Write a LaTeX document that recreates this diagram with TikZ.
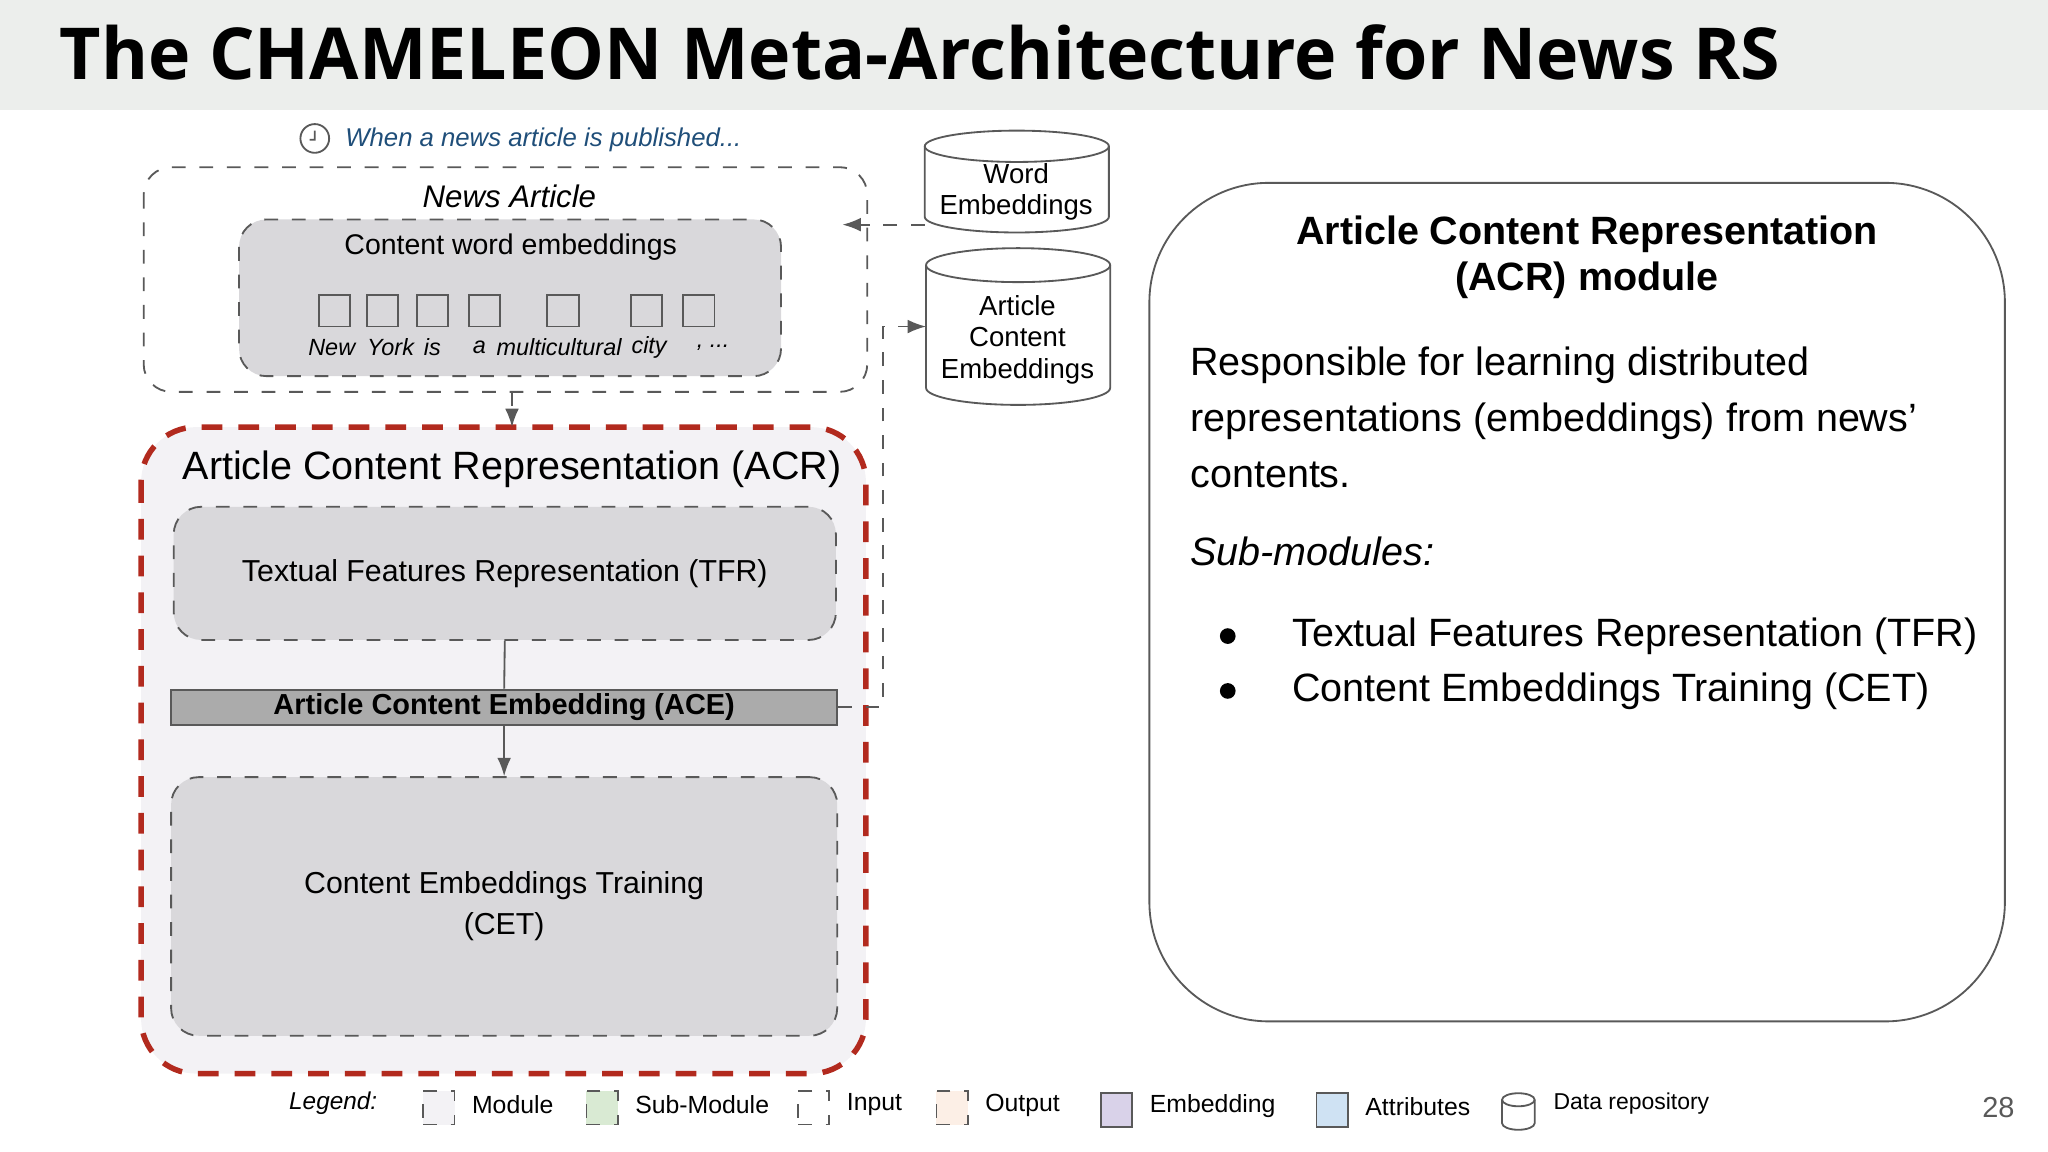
\documentclass[tikz,border=0pt]{standalone}
\usepackage{fontspec}
\setmainfont{Liberation Sans}
\newfontfamily\titlefont{Open Sans}
\usetikzlibrary{arrows.meta}
\definecolor{bandgray}{HTML}{ECEEEC}
\definecolor{boxgray}{HTML}{D9D8DB}
\definecolor{acegray}{HTML}{ABABAB}
\definecolor{modfill}{HTML}{F3F2F5}
\definecolor{acrred}{HTML}{B22A1E}
\definecolor{linegray}{HTML}{595959}
\definecolor{pubblue}{HTML}{1F4E79}
\definecolor{subgreen}{HTML}{D9EAD3}
\definecolor{outfill}{HTML}{FCEFE6}
\definecolor{embfill}{HTML}{D9D2E9}
\definecolor{attfill}{HTML}{CFE2F3}
\tikzset{
  dashbox/.style={draw=linegray, dashed, rounded corners=6pt},
  subbox/.style={dashbox, fill=boxgray},
  wordsq/.style={draw=linegray, fill=boxgray, minimum size=24\px, inner sep=0pt},
  word/.style={font=\fontsize{5.1}{6}\selectfont\itshape},
  repo/.style={draw=linegray, fill=white},
  repotxt/.style={align=center, font=\fontsize{6}{6.9}\selectfont},
  conn/.style={draw=linegray, dashed, -{Latex[length=4pt,width=3pt]}},
  legbox/.style={draw=linegray, dashed, minimum width=24\px, minimum height=26\px, inner sep=0pt},
  legtxt/.style={anchor=west, font=\fontsize{5.4}{7}\selectfont},
}
\newlength{\px}\setlength{\px}{0.01cm}
% cylinder: left, right, top, bottom, half height of end
\newcommand{\repocyl}[5]{%
  \draw[repo] (#1,#3) -- (#1,#4) arc[start angle=180, end angle=360, x radius={(#2-#1)/2}, y radius=-#5]
    -- (#2,#3) arc[start angle=0, end angle=180, x radius={(#2-#1)/2}, y radius=-#5] -- cycle;
  \draw[linegray] (#1,#3) arc[start angle=180, end angle=360, x radius={(#2-#1)/2}, y radius=-#5];
}
\begin{document}
\begin{tikzpicture}[x=0.01cm, y=-0.01cm]
  \useasboundingbox (0,0) rectangle (1568,882);
  % title band
  \fill[bandgray] (0,0) rectangle (1568,84);
  \node[anchor=west, inner sep=0pt, font=\titlefont\fontsize{15.6}{17}\selectfont\bfseries] (title) at (45,40)
    {The CHAMELEON Meta-Architecture for News RS};
  % trigger
  \draw[linegray] (241,106) circle (11) (241,100) -- (241,107) -- (237,107);
  \node[anchor=west, text=pubblue, font=\fontsize{5.6}{7}\selectfont\itshape] (pub) at (252,107)
    {When a news article is published...};
  % news article input
  \draw[dashbox] (110,128) rectangle (664,300);
  \coordinate (na bottom) at (392,300);
  \coordinate (na right) at (645,172);
  \node[font=\fontsize{6.8}{8}\selectfont\itshape] (na label) at (390,150) {News Article};
  \draw[subbox] (183,168) rectangle (598,288);
  \node[font=\fontsize{6.2}{7}\selectfont] (cwe) at (391,189) {Content word embeddings};
  \foreach \x [count=\i] in {256, 293, 331, 371, 431, 495, 535} {
    \node[wordsq] (sq\i) at (\x,238) {};
  }
  \foreach \x/\w in {254/New, 299/York, 331/is, 367/a, 428/multicultural, 497/city, 546/{, ...}} {
    \node[word] at (\x,266) {\w};
  }
  % repositories
  \repocyl{708}{849}{112}{166}{12}
  \node[repotxt] (wemb) at (778,147) {Word\\Embeddings};
  \coordinate (wemb west) at (708,172);
  \repocyl{709}{850}{203}{297}{13}
  \node[repotxt] (aemb) at (779,260) {Article\\Content\\Embeddings};
  \coordinate (aemb west) at (709,250);
  % ACR module
  \draw[acrred, line width=1.2pt, dash pattern=on 4.5pt off 3.5pt, fill=modfill, rounded corners=12pt]
    (108,327) rectangle (663,822);
  \node[font=\fontsize{8.6}{10}\selectfont] (acr label) at (392,359) {Article Content Representation (ACR)};
  \node[subbox, minimum width=507\px, minimum height=102\px, font=\fontsize{6.6}{8}\selectfont] (tfr) at (386.5,439)
    {Textual Features Representation (TFR)};
  \node[draw=linegray, fill=acegray, minimum width=510\px, minimum height=27\px, inner sep=0pt,
        font=\fontsize{6.3}{7}\selectfont\bfseries] (ace) at (386,541.5) {Article Content Embedding (ACE)};
  \node[subbox, minimum width=510\px, minimum height=198\px, align=center, font=\fontsize{6.6}{9}\selectfont] (cet) at (386,694)
    {Content Embeddings Training\\(CET)};
  % connectors
  \draw[conn] (wemb west) -- (na right);
  \draw[conn] (na bottom) -- (392,327);
  \draw[linegray] (tfr.south) -- (ace.north);
  \draw[draw=linegray, -{Latex[length=4pt,width=3pt]}] (ace.south) -- (cet.north);
  \draw[conn] (ace.east) -- (676,541.5) |- (aemb west);
  % description panel
  \draw[linegray, rounded corners=26pt] (880,140) rectangle (1535,782);
  \node[align=center, font=\fontsize{8.6}{10.2}\selectfont\bfseries] (desc head) at (1215,197)
    {Article Content Representation\\(ACR) module};
  \node[anchor=north west, align=left, font=\fontsize{8.6}{12.2}\selectfont] (desc body) at (899,253)
    {Responsible for learning distributed\\representations (embeddings) from news’\\contents.};
  \node[anchor=west, font=\fontsize{8.6}{10}\selectfont\itshape] (sub) at (899,422) {Sub-modules:};
  \foreach \y/\t in {487/Textual Features Representation (TFR), 529/Content Embeddings Training (CET)} {
    \fill (940,\y) circle (6);
    \node[anchor=west, font=\fontsize{8.6}{10}\selectfont] at (977,\y) {\t};
  }
  % legend
  \node[anchor=west, font=\fontsize{5.3}{7}\selectfont\itshape] (legend) at (209,845) {Legend:};
  \node[legbox, fill=modfill] (lg1) at (336,848) {};
  \node[legtxt] at (349,846) {Module};
  \node[legbox, fill=subgreen] (lg2) at (461,848) {};
  \node[legtxt] at (474,846) {Sub-Module};
  \node[legbox, fill=white] (lg3) at (623,848) {};
  \node[legtxt] at (636,846) {Input};
  \node[legbox, fill=outfill] (lg4) at (729,848) {};
  \node[legtxt] at (742,846) {Output};
  \node[draw=linegray, fill=embfill, minimum width=24\px, minimum height=26\px, inner sep=0pt] (lg5) at (855,850) {};
  \node[legtxt] at (868,847) {Embedding};
  \node[draw=linegray, fill=attfill, minimum width=24\px, minimum height=26\px, inner sep=0pt] (lg6) at (1020,850) {};
  \node[legtxt] at (1033,847) {Attributes};
  \repocyl{1150}{1175}{842}{860}{5}
  \node[legtxt, font=\fontsize{5}{7}\selectfont] (lg7) at (1177,845) {Data repository};
  \node[text=linegray, font=\fontsize{6.3}{7}\selectfont] (page) at (1530,848) {28};
\end{tikzpicture}
\end{document}
